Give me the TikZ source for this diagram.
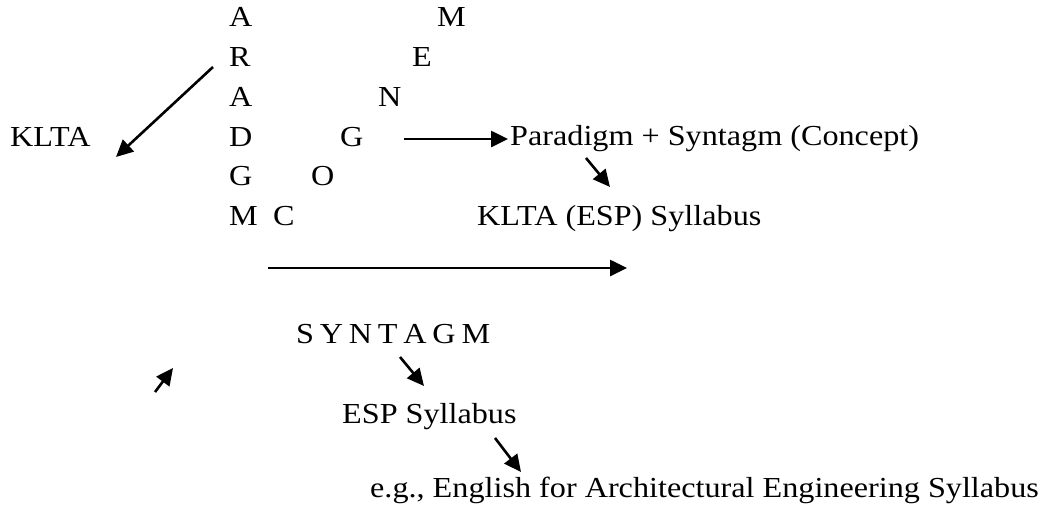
\documentclass[tikz,border=0pt]{standalone}
\usepackage{fontspec}
\setmainfont{Liberation Serif}[FakeStretch=1.11]
\usetikzlibrary{arrows.meta}
\tikzset{
  lbl/.style={inner sep=0pt, anchor=base west, font=\fontsize{29}{35}\selectfont},
  arr/.style={line width=2.6pt, -{Triangle[length=17pt,width=16pt]}}
}
\newcommand{\gapsp}{\hspace{5.8pt}}
\begin{document}
\begin{tikzpicture}[x=1pt,y=-1pt]
\path[use as bounding box] (0,0) rectangle (1047,514);

% vertical column read downwards
\node[lbl] (pA1) at (229,27)  {A};
\node[lbl] (pR)  at (229,66)  {R};
\node[lbl] (pA2) at (229,106) {A};
\node[lbl] (pD)  at (229,146) {D};
\node[lbl] (pG)  at (229,185) {G};
\node[lbl] (pM)  at (229,225) {M};

% diagonal: M E N G O C
\node[lbl] (dM) at (437,27)  {M};
\node[lbl] (dE) at (412,66)  {E};
\node[lbl] (dN) at (378,106) {N};
\node[lbl] (dG) at (340,146) {G};
\node[lbl] (dO) at (311,185) {O};
\node[lbl] (dC) at (273,225) {C};

\node[lbl] (klta)    at (10,146)  {KLTA};
\node[lbl] (concept) at (510,145) {Paradigm + Syntagm (Concept)};
\node[lbl] (kltasyl) at (477,225) {KLTA (ESP) Syllabus};
\node[lbl] (syn)     at (296,343) {S\gapsp Y\gapsp N\gapsp T\gapsp A\gapsp G\gapsp M};
\node[lbl] (espsyl)  at (342,423) {ESP Syllabus};
\node[lbl] (eg)      at (370,497) {e.g., English for Architectural Engineering Syllabus};

% arrow end points
\coordinate (a1s) at (213,67);  \coordinate (a1e) at (116,157);
\coordinate (a2s) at (404,139); \coordinate (a2e) at (508,139);
\coordinate (a3s) at (586,158); \coordinate (a3e) at (610,187);
\coordinate (a4s) at (268,268); \coordinate (a4e) at (627,268);
\coordinate (a5s) at (400,357); \coordinate (a5e) at (424,386);
\coordinate (a6s) at (155,392); \coordinate (a6e) at (173,368);
\coordinate (a7s) at (495,438); \coordinate (a7e) at (521,472);

\draw[arr] (a1s) -- (a1e);
\draw[arr] (a2s) -- (a2e);
\draw[arr] (a3s) -- (a3e);
\draw[arr] (a4s) -- (a4e);
\draw[arr] (a5s) -- (a5e);
\draw[arr] (a6s) -- (a6e);
\draw[arr] (a7s) -- (a7e);
\end{tikzpicture}
\end{document}
